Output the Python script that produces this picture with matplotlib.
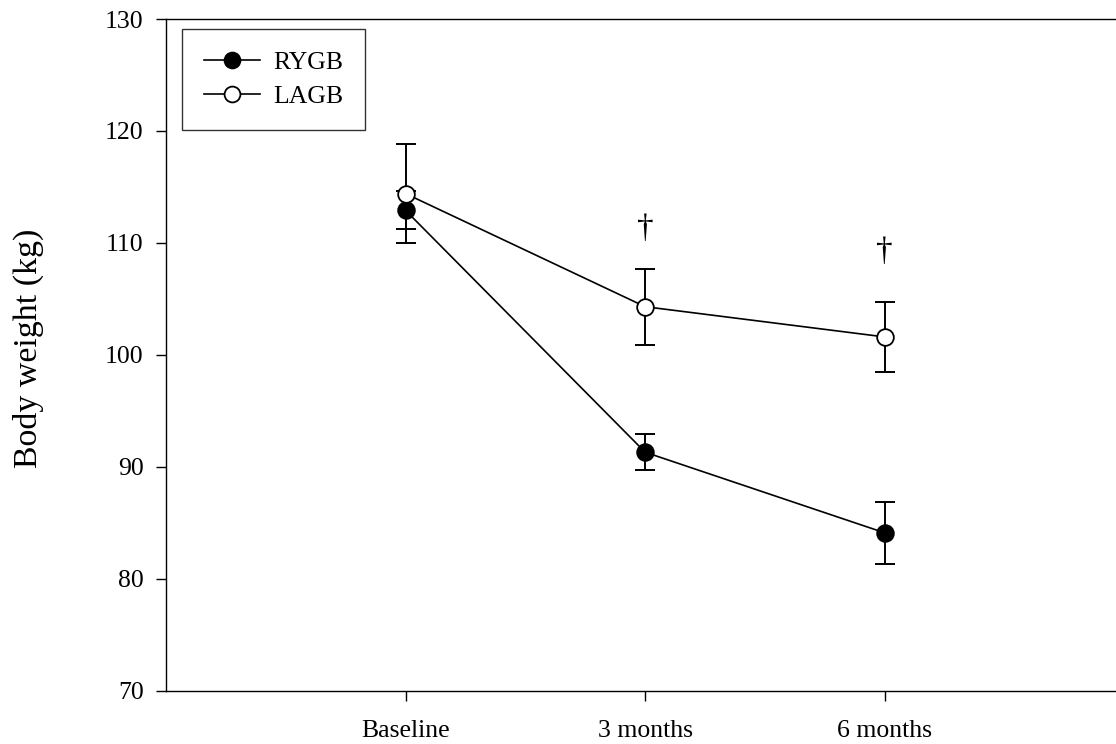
import matplotlib
matplotlib.use("Agg")
import matplotlib.pyplot as plt

plt.rcParams['font.family'] = ['Liberation Serif', 'DejaVu Serif']

timepoints = ["Baseline", "3 months", "6 months"]
rygb_mean = [112.9, 91.3, 84.1]
rygb_sem = [1.7, 1.6, 2.75]
lagb_mean = [114.4, 104.3, 101.6]
lagb_sem = [4.45, 3.4, 3.1]
# significance markers above LAGB points
dagger_pos = [1, 2]
dagger_y = [111.3, 109.2]

x = list(range(len(timepoints)))

fig = plt.figure(figsize=(11.16, 7.44), dpi=100)
ax = fig.add_axes([166 / 1116, 53.3 / 744, 950 / 1116, 671.7 / 744])

# error bars first so markers cover them
ax.errorbar(x, rygb_mean, yerr=rygb_sem, fmt='none', ecolor='black',
            elinewidth=1.4, capsize=7, capthick=1.4, zorder=1)
ax.errorbar(x, lagb_mean, yerr=lagb_sem, fmt='none', ecolor='black',
            elinewidth=1.4, capsize=7, capthick=1.4, zorder=1)

ax.plot(x, rygb_mean, color='black', lw=1.2, marker='o', markersize=12,
        markerfacecolor='black', markeredgecolor='black', markeredgewidth=1.3,
        label='RYGB', zorder=3)
ax.plot(x, lagb_mean, color='black', lw=1.2, marker='o', markersize=12,
        markerfacecolor='white', markeredgecolor='black', markeredgewidth=1.3,
        label='LAGB', zorder=3)

for xp, yp in zip(dagger_pos, dagger_y):
    ax.text(xp, yp, "\u2020", ha='center', va='center', fontsize=24)

ax.set_xlim(-1, 2.965)
ax.set_ylim(70, 130)
ax.set_xticks(x)
ax.set_xticklabels(timepoints)
ax.set_yticks(range(70, 131, 10))

ax.spines['right'].set_visible(False)
for s in ['left', 'bottom', 'top']:
    ax.spines[s].set_linewidth(1.0)

ax.tick_params(axis='both', direction='out', length=7, width=1.0,
               labelsize=18.5)
ax.tick_params(axis='y', pad=9)
ax.tick_params(axis='x', pad=14)

ax.set_ylabel("Body weight (kg)", fontsize=24.4)
ax.yaxis.set_label_coords(-0.128, 0.51)

leg = ax.legend(loc='upper left', bbox_to_anchor=(0.0165, 0.985),
                fontsize=18.5, frameon=True, fancybox=False,
                handlelength=2.2, handletextpad=0.5, borderpad=0.85,
                labelspacing=0.45, borderaxespad=0, markerscale=0.95)
leg.get_frame().set_edgecolor('black')
leg.get_frame().set_linewidth(1.0)

fig.savefig("out.png", dpi=100)
